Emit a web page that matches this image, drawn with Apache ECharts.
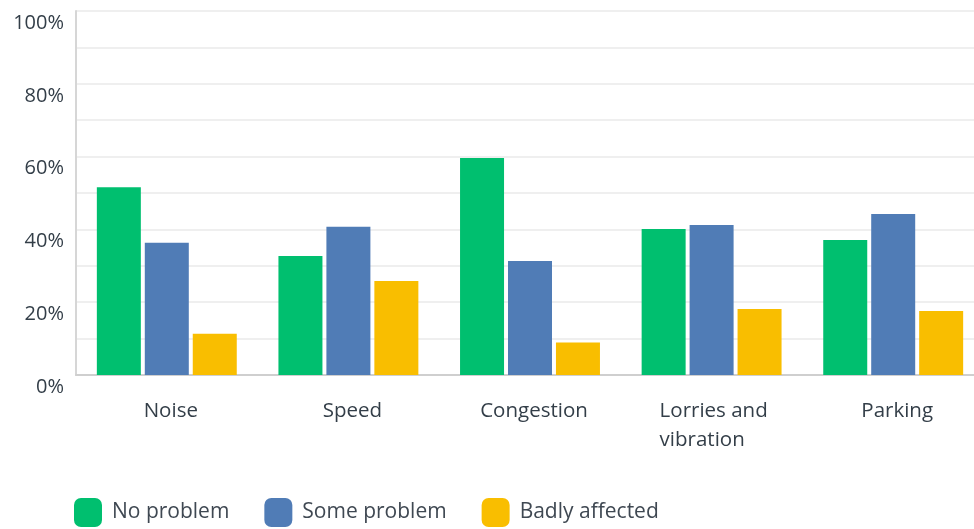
<!DOCTYPE html>
<html>
<head>
<meta charset="utf-8">
<script src="https://cdn.jsdelivr.net/npm/echarts@6/dist/echarts.min.js"></script>
<style>
  html, body { margin: 0; padding: 0; background: #fff; }
  #chart { width: 974px; height: 529px; }
</style>
</head>
<body>
<div id="chart"></div>
<script>
// categories and answer shares (%)
const categories = ['Noise', 'Speed', 'Congestion', 'Lorries and vibration', 'Parking'];
const seriesNames = ['No problem', 'Some problem', 'Badly affected'];
const noProblem = [51.6, 32.7, 59.6, 40.1, 37.1];
const someProblem = [36.3, 40.7, 31.3, 41.2, 44.2];
const badlyAffected = [11.3, 25.8, 8.9, 18.1, 17.6];
const colors = ['#00bf6f', '#507cb6', '#f9be00'];

const textColor = '#333e48';
const font = '"Open Sans", "Noto Sans", sans-serif';

const chart = echarts.init(document.getElementById('chart'));

const bar = (name, data, i) => ({
  name: name,
  type: 'bar',
  data: data,
  barWidth: 44,
  barGap: '9%',
  itemStyle: { color: colors[i] },
  emphasis: { disabled: true }
});

chart.setOption({
  animation: false,
  textStyle: { fontFamily: font },
  // plot runs a bit past the right edge in the original
  grid: { left: 76, top: 11, right: -10, height: 364, outerBoundsMode: 'none', containLabel: false },
  legend: {
    left: 74,
    top: 498,
    padding: 0,
    itemWidth: 28,
    itemHeight: 29,
    itemGap: 35,
    icon: 'roundRect',
    data: seriesNames,
    textStyle: { fontSize: 21, color: '#3f4852', fontFamily: font, padding: [6, 0, 0, 5] }
  },
  xAxis: {
    type: 'category',
    data: categories,
    axisTick: { show: false },
    axisLine: { lineStyle: { color: '#cfcfcf', width: 2 } },
    axisLabel: {
      interval: 0,
      margin: 22,
      fontSize: 20.5,
      color: textColor,
      fontFamily: font,
      lineHeight: 29,
      padding: [0, 0, 0, 8],
      formatter: function (v) {
        if (v === 'Lorries and vibration') return '{w|Lorries and}\n{w|vibration}';
        return v;
      },
      rich: {
        w: { width: 112, align: 'left', fontSize: 20.5, lineHeight: 29, color: textColor, fontFamily: font }
      }
    }
  },
  yAxis: {
    type: 'value',
    min: 0,
    max: 100,
    interval: 10,
    axisLine: { show: true, lineStyle: { color: '#d6d6d6', width: 2 } },
    axisTick: { show: false },
    splitLine: { lineStyle: { color: '#efefef', width: 2 } },
    axisLabel: {
      margin: 12,
      fontSize: 20,
      color: textColor,
      fontFamily: font,
      verticalAlign: 'top',
      lineHeight: 24,
      formatter: function (v) { return v % 20 === 0 ? v + '%' : ''; }
    }
  },
  series: [
    bar(seriesNames[0], noProblem, 0),
    bar(seriesNames[1], someProblem, 1),
    bar(seriesNames[2], badlyAffected, 2)
  ]
});
</script>
</body>
</html>
